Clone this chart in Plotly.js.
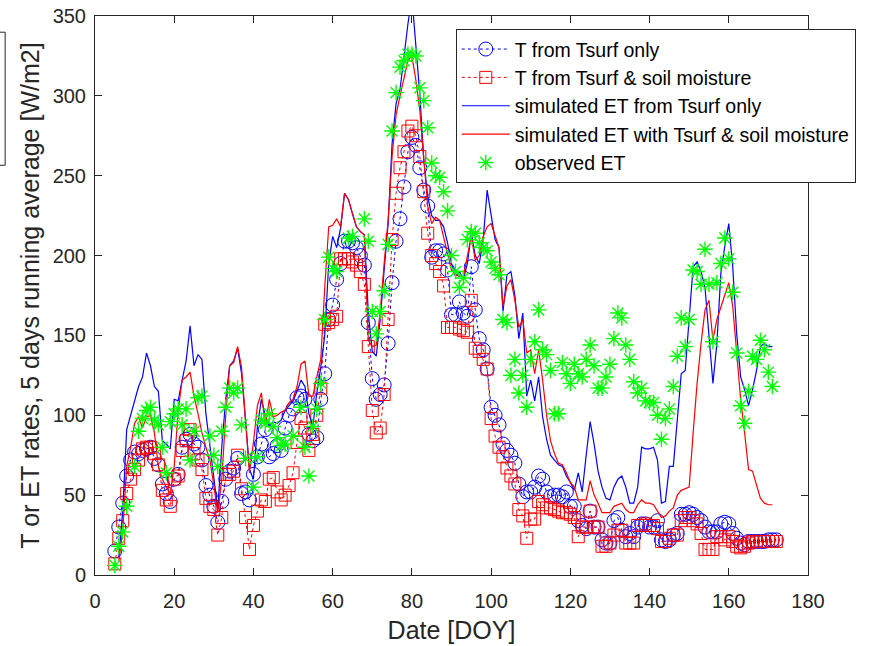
<!DOCTYPE html>
<html>
<head>
<meta charset="utf-8">
<script src="https://cdn.plot.ly/plotly-3.0.1.min.js"></script>
<style>html,body{margin:0;padding:0;background:#fff;}#chart{width:869px;height:646px;}</style>
</head>
<body>
<div id="chart"></div>
<script>
// Day of year (DOY) for every daily value
const days = [5,6,7,8,9,10,11,12,13,14,
15,16,17,18,19,20,21,22,23,24,
25,26,27,28,29,30,31,32,33,34,
35,36,37,38,39,40,41,42,43,44,
45,46,47,48,49,50,51,52,53,54,
55,56,57,58,59,60,61,62,63,64,
65,66,67,68,69,70,71,72,73,74,
75,76,77,78,79,80,81,82,83,84,
85,86,87,88,89,90,91,92,93,94,
95,96,97,98,99,100,101,102,103,104,
105,106,107,108,109,110,111,112,113,114,
115,116,117,118,119,120,121,122,123,124,
125,126,127,128,129,130,131,132,133,134,
135,136,137,138,139,140,141,142,143,144,
145,146,147,148,149,150,151,152,153,154,
155,156,157,158,159,160,161,162,163,164,
165,166,167,168,169,170,171,172];

// T from Tsurf only (blue circles)
const tTsurf = [15,30,45,62,72,77,76,78,79,80,
73,69,57,51,46,60,63,80,85,88,
82,80,72,56,50,43,33,46,60,65,
67,73,51,52,47,63,74,82,91,74,
76,81,78,92,100,104,111,112,110,88,
84,86,110,126,160,169,185,195,209,209,
208,205,200,194,158,123,110,113,119,145,
183,209,223,243,265,274,269,255,241,231,
199,203,203,201,191,163,163,171,164,162,
193,166,148,141,129,105,100,94,82,78,
75,70,57,49,52,52,55,62,60,52,
49,50,50,49,52,43,43,34,31,29,
40,30,30,22,20,20,34,36,28,24,
26,24,30,32,32,30,30,34,22,21,
22,25,26,38,38,39,38,36,34,30,
27,27,27,32,33,32,26,23,20,19,
21,21,21,21,21,22,22,22];

// T from Tsurf & soil moisture (red squares)
const tTsurfSoil = [7,23,34,51,60,66,72,79,80,80,
76,69,53,47,43,60,62,78,84,91,
76,72,66,48,43,41,25,36,63,63,
65,75,54,36,16,31,40,47,46,60,
61,52,47,50,56,64,83,98,92,78,
88,100,117,157,158,160,162,198,198,198,
196,194,190,182,143,103,89,92,113,160,
210,239,255,265,278,281,275,262,240,214,
200,195,190,181,155,155,155,154,153,152,
172,142,140,135,129,98,87,80,74,67,
62,57,41,37,23,35,35,46,44,42,
42,41,40,39,39,38,36,24,30,30,
40,30,30,18,18,20,25,28,28,20,
20,20,31,31,32,31,31,29,21,21,
23,25,25,34,36,36,34,32,26,16,
16,16,24,24,22,24,21,18,17,18,
20,21,21,21,21,21,21,21];

// simulated ET from Tsurf only (blue line)
const etTsurf = [null,11,40,91,100,110,118,124,139,131,
118,115,84,82,79,110,109,122,134,156,
131,138,135,101,80,60,41,80,110,131,
134,142,126,97,66,60,93,110,100,93,
96,95,97,103,106,109,115,122,118,101,
93,114,130,150,195,212,205,217,239,235,
226,218,215,213,164,140,137,160,191,220,
270,295,304,326,345,362,333,301,260,237,
225,222,222,218,208,195,187,190,185,195,
214,200,195,210,241,225,210,205,165,188,
190,175,148,164,112,122,109,124,99,85,
75,72,69,68,62,58,53,64,52,75,
96,82,65,55,48,47,55,60,62,55,
45,45,55,80,79,79,80,72,45,46,
68,68,99,126,128,159,193,196,190,180,
147,120,145,189,206,220,193,151,124,116,
106,116,128,143,145,143,143,null];

// simulated ET with Tsurf & soil moisture (red line)
const etTsurfSoil = [null,8,28,68,80,95,99,92,99,100,
89,68,60,55,51,68,103,122,124,127,
112,101,89,80,72,56,39,60,100,131,
133,143,130,97,64,83,106,114,93,110,
99,100,102,103,108,110,118,132,134,112,
112,124,135,180,218,219,223,218,239,235,
226,218,215,213,147,143,144,165,195,222,
262,288,300,312,322,325,310,291,260,231,
220,224,222,212,201,191,188,187,187,200,
212,197,200,212,218,220,212,205,168,181,
185,172,155,160,139,141,126,141,122,100,
84,76,70,69,64,58,55,47,47,47,
59,50,45,39,39,39,43,44,45,41,
39,39,44,47,45,45,44,40,36,37,
40,42,50,53,54,55,89,120,145,166,
172,147,160,168,175,183,168,141,110,89,
66,65,56,48,45,44,44,null];

// observed ET (green asterisks)
const obsDays = [5,6,7,8,10,11,12,13,14,15,16,17,18,19,20,21,22,23,24,25,26,27,29,30,31,32,33,34,35,36,37,38,40,41,42,43,44,45,46,47,48,50,52,53,54,55,56,57,58,59,60,61,64,65,68,69,70,71,72,73,74,75,76,77,78,79,80,81,82,83,84,85,86,87,88,89,90,91,92,93,94,95,96,97,98,99,100,101,102,103,104,105,106,107,108,109,110,111,112,113,114,115,116,117,118,119,120,121,122,123,124,125,126,127,128,129,130,131,132,133,134,135,136,137,138,139,140,141,142,143,144,145,146,147,148,149,150,151,152,153,154,155,156,157,158,159,160,161,162,163,164,165,166,167,168,169,170,171];
const obsET = [6,18,27,43,68,90,98,103,105,97,94,80,64,96,101,104,94,104,72,90,111,112,87,75,68,90,105,117,114,117,94,73,55,74,97,95,101,93,86,81,82,87,105,80,62,93,104,120,160,199,192,190,211,212,223,209,165,151,165,178,207,278,302,318,322,326,326,325,305,297,280,258,250,249,240,228,200,190,180,186,210,215,214,208,205,203,196,192,188,160,158,125,135,114,125,105,135,146,166,141,138,128,101,101,133,126,120,132,126,124,135,144,131,117,117,124,132,148,164,161,144,135,121,114,117,109,108,108,100,85,98,104,118,137,161,143,160,191,190,182,204,182,146,183,195,211,198,177,139,106,95,115,137,135,147,141,127,118];

const xTicks = [0,20,40,60,80,100,120,140,160,180];
const yTicks = [0,50,100,150,200,250,300,350];

const FONT = 'Liberation Sans, Arial, Helvetica, sans-serif';
const AX = '#262626';

const traces = [
  {x: days, y: tTsurf, name: 'T from Tsurf only', mode: 'lines+markers', type: 'scatter',
   line: {color: '#0000ff', width: 1, dash: 'dot'},
   marker: {symbol: 'circle-open', size: 14, color: '#0000ff', line: {width: 1, color: '#0000ff'}}},
  {x: days, y: tTsurfSoil, name: 'T from Tsurf & soil moisture', mode: 'lines+markers', type: 'scatter',
   line: {color: '#ff0000', width: 1, dash: 'dot'},
   marker: {symbol: 'square-open', size: 12, color: '#ff0000', line: {width: 1, color: '#ff0000'}}},
  {x: days, y: etTsurf, name: 'simulated ET from Tsurf only', mode: 'lines', type: 'scatter',
   line: {color: '#0000ff', width: 1.2}},
  {x: days, y: etTsurfSoil, name: 'simulated ET with Tsurf & soil moisture', mode: 'lines', type: 'scatter',
   line: {color: '#ff0000', width: 1.2}},
  {x: obsDays, y: obsET, name: 'observed ET', mode: 'markers', type: 'scatter',
   marker: {symbol: 'asterisk-open', size: 13, color: '#00ff00', line: {width: 1.4, color: '#00ff00'}}}
];

const layout = {
  width: 869, height: 646,
  margin: {l: 95, r: 61, t: 16, b: 71},
  paper_bgcolor: '#ffffff', plot_bgcolor: '#ffffff',
  font: {family: FONT, size: 19, color: AX},
  showlegend: true,
  legend: {x: 0.506, y: 0.977, xanchor: 'left', yanchor: 'top',
           bgcolor: '#ffffff', bordercolor: AX, borderwidth: 1,
           itemwidth: 48,
           font: {family: FONT, size: 19.5, color: '#000000'}, tracegroupgap: 0},
  xaxis: {range: [0, 180], tickvals: xTicks, ticktext: xTicks.map(String),
          ticks: 'inside', ticklen: 7, tickcolor: AX, tickwidth: 1,
          showline: true, linecolor: AX, linewidth: 1, mirror: 'ticks',
          showgrid: false, zeroline: false, ticklabelstandoff: 8,
          tickfont: {family: FONT, size: 20, color: AX},
          title: {text: 'Date [DOY]', font: {family: FONT, size: 25, color: AX}, standoff: 10}},
  yaxis: {range: [0, 350], tickvals: yTicks, ticktext: yTicks.map(String),
          ticks: 'inside', ticklen: 7, tickcolor: AX, tickwidth: 1,
          showline: true, linecolor: AX, linewidth: 1, mirror: 'ticks',
          showgrid: false, zeroline: false, ticklabelstandoff: 4,
          tickfont: {family: FONT, size: 20, color: AX},
          title: {text: 'T or ET rates, 5 days running average [W/m2]', font: {family: FONT, size: 25, color: AX}, standoff: 5}},
  shapes: [
    {type: 'rect', xref: 'paper', yref: 'paper', x0: -0.3, x1: -0.126, y0: 0.733, y1: 0.971,
     line: {color: AX, width: 1}, fillcolor: 'rgba(0,0,0,0)', layer: 'below'}
  ]
};

Plotly.newPlot('chart', traces, layout, {displayModeBar: false, staticPlot: true});
</script>
</body>
</html>
